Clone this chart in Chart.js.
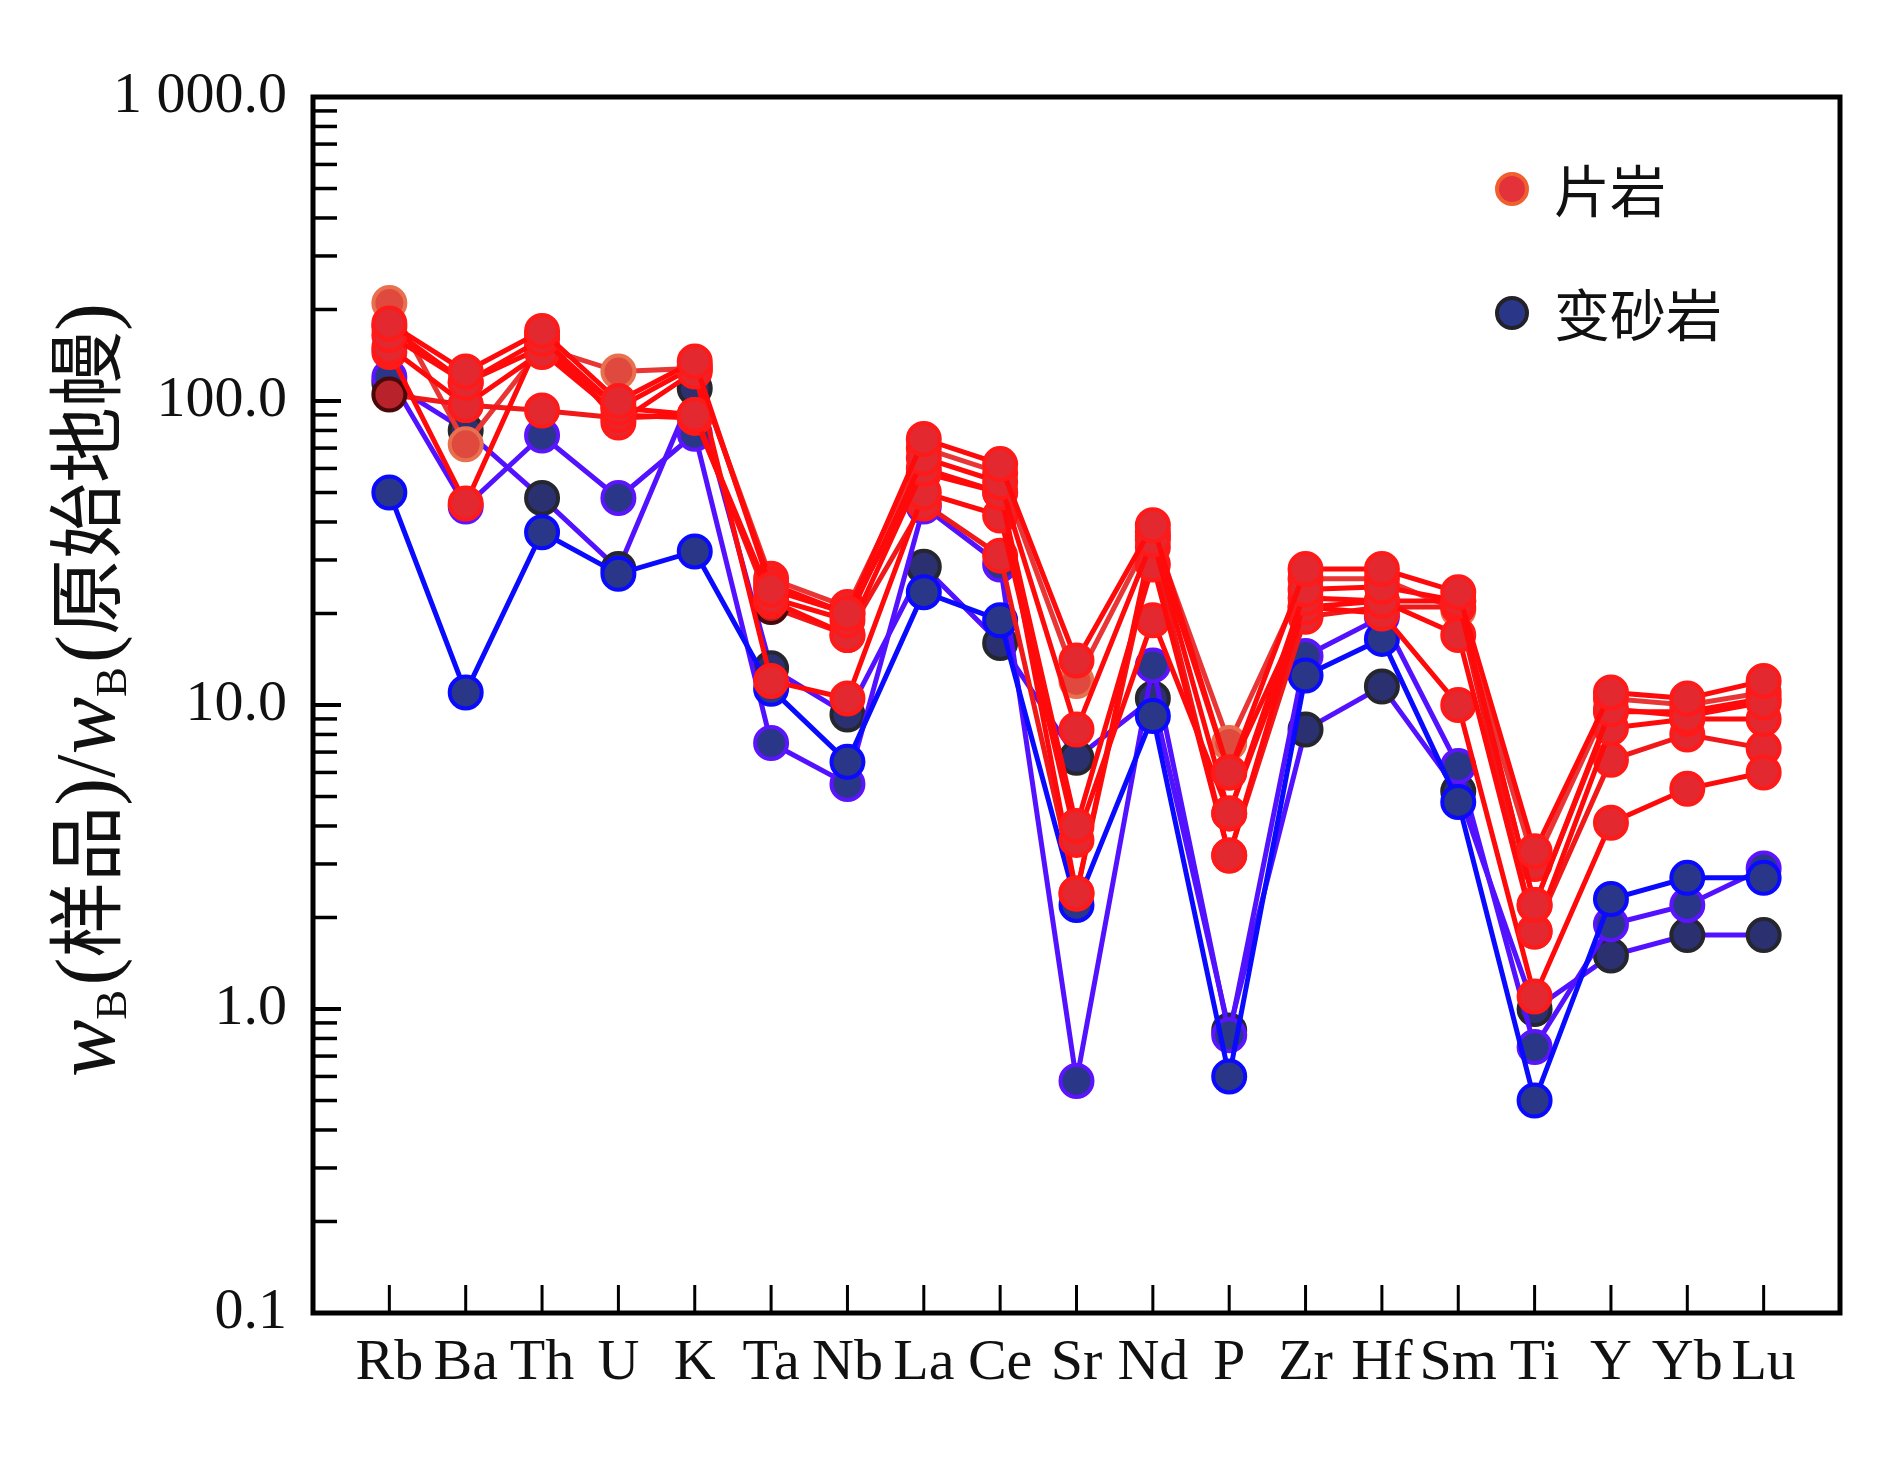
<!DOCTYPE html>
<html>
<head>
<meta charset="utf-8">
<script src="https://cdn.jsdelivr.net/npm/chart.js@4.4.0/dist/chart.umd.min.js"></script>
<style>
  html, body { margin: 0; padding: 0; background: #fff; }
  #wrap { width: 1890px; height: 1465px; }
</style>
</head>
<body>
<div id="wrap"><canvas id="spider" width="1890" height="1465"></canvas></div>
<script>
// ---- data ----------------------------------------------------------------
var elements = ['Rb', 'Ba', 'Th', 'U', 'K', 'Ta', 'Nb', 'La', 'Ce', 'Sr', 'Nd', 'P', 'Zr', 'Hf', 'Sm', 'Ti', 'Y', 'Yb', 'Lu'];
var yTickValues = [0.1, 1, 10, 100, 1000];
var yTickLabels = ['0.1', '1.0', '10.0', '100.0', '1 000.0'];

// 片岩 (schist)
var schistA = [210, 72, 150, 125, 128, 26, 21, 70, 58, 12, 37, 7.5, 26, 26, 20.5, 3.0, 10.5, 10, 11];
var schistB = [180, 125, 170, 100, 135, 24, 20, 75, 62, 14, 39, 6, 28, 28, 23.5, 3.3, 11, 10.5, 12];
var schistC = [165, 115, 160, 95, 90, 22.5, 19, 65, 54, 8.3, 35, 4.4, 24, 24.5, 22, 2.2, 9.7, 9.2, 10.2];
var schistD = [150, 97, 145, 90, 88, 22, 17, 60, 50, 4, 29, 3.2, 22.5, 22, 17, 1.8, 8.4, 9, 9];
var schistE = [145, 46, 165, 85, 125, 12, 10.5, 50, 42, 3.6, 19, 4.4, 21, 20, 10, 1.1, 4.1, 5.3, 6];
var schistF = [175, 115, 150, 95, 130, 25, 20, 58, 50, 2.4, 36, 6, 21, 22, 22, 2.2, 9.5, 9.5, 10.5];
var schistG = [105, 97, 93, 88, 90, 21, 17, 46, 31, 2.4, 33, 3.2, 19.5, 21, 21, 1.8, 6.6, 8, 7.2];

// 变砂岩 (metasandstone)
var sandA = [50, 11, 37, 27, 32, 11.3, 6.5, 23.5, 19, 2.2, 9.2, 0.6, 12.5, 16.5, 4.8, 0.5, 2.3, 2.7, 2.7];
var sandB = [120, 45, 77, 48, 78, 7.5, 5.5, 45, 29, 0.58, 13.5, 0.82, 14.5, 19.5, 6.3, 0.75, 1.9, 2.2, 2.9];
var sandC = [115, 80, 48, 28, 110, 13.2, 9.3, 28.5, 16, 6.7, 10.5, 0.85, 8.3, 11.5, 5.2, 1.0, 1.5, 1.75, 1.75];

// ---- helpers -------------------------------------------------------------
function pts(values) {
    return values.map(function (v, i) { return { x: i + 1, y: v }; });
}

// odd: indices whose marker uses the alternative fill/border
function series(label, values, line, fill, border, order, odd, oddFill, oddBorder) {
    odd = odd || [];
    return {
        label: label,
        data: pts(values),
        borderColor: line,
        borderWidth: 5,
        pointRadius: 16,
        pointBorderWidth: 4,
        pointBackgroundColor: values.map(function (v, i) { return odd.indexOf(i) >= 0 ? oddFill : fill; }),
        pointBorderColor: values.map(function (v, i) { return odd.indexOf(i) >= 0 ? oddBorder : border; }),
        tension: 0,
        fill: false,
        order: order
    };
}

var RED = '#ff0a0a', BLUE = '#0a0aff', PURPLE = '#5212ff';
var redFill = '#e3282f', redEdge = '#ff1a1a', navy = '#2a3688';

var datasets = [
    series('片岩', schistB, RED, redFill, redEdge, 0),
    series('片岩', schistC, RED, redFill, redEdge, 0),
    series('片岩', schistD, RED, redFill, redEdge, 0),
    series('片岩', schistE, RED, redFill, redEdge, 0),
    series('片岩', schistF, RED, redFill, redEdge, 0),
    series('片岩', schistG, '#f01818', redFill, redEdge, 0, [0, 5], '#b8222a', '#4a0808'),
    series('片岩', schistA, '#e83636', redFill, redEdge, 0, [0, 1, 3, 9, 11, 14], '#e04a3e', '#e8704f'),
    series('变砂岩', sandA, BLUE, navy, BLUE, 1),
    series('变砂岩', sandB, PURPLE, navy, '#5c14ff', 1),
    series('变砂岩', sandC, PURPLE, '#2a3070', '#26262e', 1)
];

// frame, inward ticks, y title and legend
var decor = {
    id: 'decor',
    beforeDatasetsDraw: function (chart) {
        var ctx = chart.ctx, a = chart.chartArea;
        var xs = chart.scales.x, ys = chart.scales.y;
        ctx.save();
        ctx.strokeStyle = '#000';
        // x ticks (pointing up)
        ctx.lineWidth = 3;
        elements.forEach(function (e, i) {
            var px = xs.getPixelForValue(i + 1);
            ctx.beginPath(); ctx.moveTo(px, a.bottom); ctx.lineTo(px, a.bottom - 28); ctx.stroke();
        });
        // y ticks (pointing right), major and minor
        for (var d = -1; d < 3; d++) {
            for (var m = 1; m <= 9; m++) {
                var v = m * Math.pow(10, d);
                var py = ys.getPixelForValue(v);
                ctx.lineWidth = m === 1 ? 4 : 3.5;
                ctx.beginPath(); ctx.moveTo(a.left, py); ctx.lineTo(a.left + (m === 1 ? 28 : 24), py); ctx.stroke();
            }
        }
        // frame
        ctx.lineWidth = 5;
        ctx.strokeRect(a.left, a.top, a.right - a.left, a.bottom - a.top);
        ctx.restore();
    },
    afterDraw: function (chart) {
        var ctx = chart.ctx;
        ctx.save();
        // y axis title, drawn bottom to top
        var serif = '"Liberation Serif", "Times New Roman", serif';
        var cjk = '"Noto Sans CJK SC", sans-serif';
        var parts = [
            { t: 'w', f: 'italic 86px ' + serif },
            { t: 'B', f: '45px ' + serif, sub: true },
            { t: '(', f: '84px ' + serif },
            { t: '样品', f: '76px ' + cjk },
            { t: ')/', f: '84px ' + serif },
            { t: 'w', f: 'italic 86px ' + serif },
            { t: 'B', f: '45px ' + serif, sub: true },
            { t: '(', f: '84px ' + serif },
            { t: '原始地幔', f: '76px ' + cjk },
            { t: ')', f: '84px ' + serif }
        ];
        var total = 0;
        parts.forEach(function (p) { ctx.font = p.f; p.w = ctx.measureText(p.t).width + (p.sub ? 4 : 0); total += p.w; });
        ctx.translate(88, 690);
        ctx.rotate(-Math.PI / 2);
        ctx.fillStyle = '#111';
        ctx.textBaseline = 'alphabetic';
        ctx.textAlign = 'left';
        var x = -total / 2;
        parts.forEach(function (p) {
            ctx.font = p.f;
            ctx.fillText(p.t, x, p.sub ? 38 : 26);
            x += p.w;
        });
        ctx.restore();

        // legend
        ctx.save();
        var items = [
            { label: '片岩', fill: '#e3323a', border: '#f0602e', y: 189 },
            { label: '变砂岩', fill: '#2a3688', border: '#222228', y: 313 }
        ];
        items.forEach(function (it) {
            ctx.beginPath();
            ctx.arc(1512, it.y, 15, 0, Math.PI * 2);
            ctx.fillStyle = it.fill; ctx.fill();
            ctx.lineWidth = 4; ctx.strokeStyle = it.border; ctx.stroke();
            ctx.fillStyle = '#111';
            ctx.font = '56px "Noto Sans CJK SC", sans-serif';
            ctx.textAlign = 'left';
            ctx.textBaseline = 'middle';
            ctx.fillText(it.label, 1554, it.y + 2);
        });
        ctx.restore();
    }
};

new Chart(document.getElementById('spider').getContext('2d'), {
    type: 'line',
    data: { datasets: datasets },
    options: {
        responsive: false,
        devicePixelRatio: 1,
        animation: false,
        layout: { padding: { left: 0, top: 97, right: 50, bottom: 0 } },
        plugins: { legend: { display: false }, tooltip: { enabled: false }, title: { display: false } },
        scales: {
            x: {
                type: 'linear',
                min: 0,
                max: 20,
                afterBuildTicks: function (scale) {
                    scale.ticks = elements.map(function (e, i) { return { value: i + 1 }; });
                },
                afterFit: function (scale) { scale.height = 152; },
                ticks: {
                    autoSkip: false,
                    maxRotation: 0,
                    padding: 8,
                    color: '#111',
                    font: { family: '"Liberation Serif", "Times New Roman", serif', size: 58 },
                    callback: function (v) { return elements[v - 1] || ''; }
                },
                grid: { display: false },
                border: { display: false }
            },
            y: {
                type: 'logarithmic',
                min: 0.1,
                max: 1000,
                afterBuildTicks: function (scale) {
                    scale.ticks = yTickValues.map(function (v) { return { value: v }; });
                },
                afterFit: function (scale) { scale.width = 313; },
                ticks: {
                    autoSkip: false,
                    padding: 18,
                    color: '#111',
                    font: { family: '"Liberation Serif", "Times New Roman", serif', size: 58 },
                    callback: function (v) {
                        var k = yTickValues.indexOf(v);
                        return k >= 0 ? yTickLabels[k] : '';
                    }
                },
                grid: { display: false },
                border: { display: false }
            }
        }
    },
    plugins: [decor]
});
</script>
</body>
</html>
